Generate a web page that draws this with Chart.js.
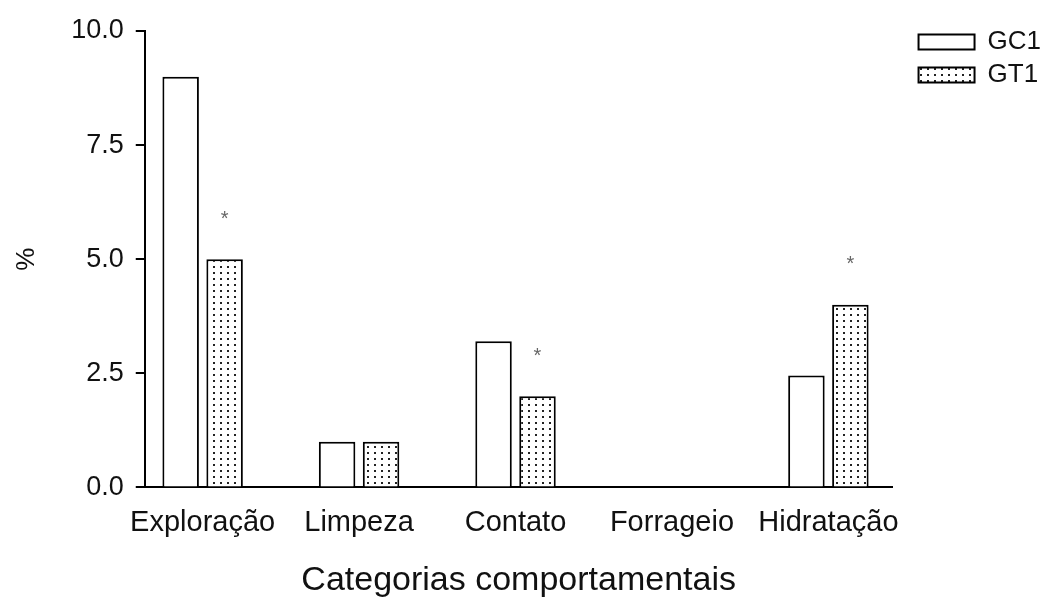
<!DOCTYPE html>
<html>
<head>
<meta charset="utf-8">
<script src="https://cdn.jsdelivr.net/npm/chart.js@4"></script>
<style>
  html, body { margin: 0; padding: 0; background: #fff; }
  #wrap { width: 1047px; height: 598px; }
</style>
</head>
<body>
<div id="wrap"><canvas id="chart"></canvas></div>
<script>
'use strict';

let categories = ['Exploração', 'Limpeza', 'Contato', 'Forrageio', 'Hidratação'];
let gc1Values = [9.0, 1.0, 3.2, 0.0, 2.45];
let gt1Values = [5.0, 1.0, 2.0, 0.0, 4.0];
let gt1Marks = ['*', '', '*', '', '*'];
let yTicks = [0, 2.5, 5.0, 7.5, 10.0];

let canvasElem = document.getElementById('chart');
let fontFam = '"Liberation Sans", Arial, sans-serif';

// dotted fill like the scanned figure
function makeDots() {
  let c = document.createElement('canvas');
  c.width = 7;
  c.height = 6;
  let cx = c.getContext('2d');
  cx.fillStyle = '#fff';
  cx.fillRect(0, 0, 7, 6);
  cx.fillStyle = '#222';
  cx.fillRect(3, 2, 2, 2);
  return cx.createPattern(c, 'repeat');
}

let starPlugin = {
  id: 'stars',
  afterDatasetsDraw(chart) {
    let meta = chart.getDatasetMeta(1);
    let ctx = chart.ctx;
    ctx.save();
    ctx.fillStyle = '#666';
    ctx.font = '20px ' + fontFam;
    ctx.textAlign = 'center';
    ctx.textBaseline = 'middle';
    for (let i = 0; i < gt1Marks.length; i++) {
      if (!gt1Marks[i]) continue;
      let bar = meta.data[i];
      ctx.fillText(gt1Marks[i], bar.x, bar.y - 40);
    }
    ctx.restore();
  }
};

// legend sits a bit right of the plot's end, so give it extra room and nudge it
let legendRoom = {
  id: 'legendRoom',
  beforeLayout(chart) {
    let lg = chart.legend;
    if (lg && !lg._roomy) {
      let fit = lg.fit.bind(lg);
      lg.fit = function () {
        fit();
        this.width += 15;
      };
      lg._roomy = true;
    }
  },
  afterLayout(chart) {
    chart.legend.left += 19;
    chart.legend.right += 19;
  }
};

function renderChart() {
  let gc1Data = gc1Values.map((v, i) => ({ x: i, y: v }));
  let gt1Data = gt1Values.map((v, i) => ({ x: i, y: v }));

  let chartObj = {
    type: 'bar',
    data: {
      datasets: [{
        label: 'GC1',
        data: gc1Data,
        backgroundColor: '#fff',
        borderColor: '#000',
        borderWidth: 2,
        categoryPercentage: 0.562,
        barPercentage: 0.83
      },
      {
        label: 'GT1',
        data: gt1Data,
        backgroundColor: makeDots(),
        borderColor: '#000',
        borderWidth: 2,
        categoryPercentage: 0.562,
        barPercentage: 0.83
      }]
    },
    options: {
      responsive: true,
      maintainAspectRatio: false,
      animation: false,
      layout: { padding: { top: 22, left: 0, right: 0, bottom: 0 } },
      plugins: {
        legend: {
          position: 'right',
          align: 'start',
          labels: {
            boxWidth: 56,
            boxHeight: 15,
            padding: 7,
            color: '#111',
            font: { family: fontFam, size: 26 }
          }
        },
        tooltip: { enabled: false }
      },
      scales: {
        x: {
          type: 'linear',
          offset: false,
          bounds: 'data',
          min: -0.37,
          max: 4.41,
          afterBuildTicks: (scale) => {
            scale.ticks = categories.map((c, i) => ({ value: i }));
          },
          grid: { display: false, offset: false },
          border: { color: '#000', width: 2 },
          ticks: {
            autoSkip: false,
            maxRotation: 0,
            padding: 10,
            color: '#111',
            font: { family: fontFam, size: 29 },
            callback: (v) => categories[v]
          },
          title: {
            display: true,
            text: 'Categorias comportamentais',
            color: '#111',
            font: { family: fontFam, size: 34 },
            padding: { top: 10, bottom: -3 }
          }
        },
        y: {
          min: 0,
          max: 10,
          afterBuildTicks: (scale) => {
            scale.ticks = yTicks.map((v) => ({ value: v }));
          },
          grid: {
            display: true,
            drawOnChartArea: false,
            drawTicks: true,
            tickLength: 9,
            color: '#000',
            lineWidth: 2
          },
          border: { color: '#000', width: 2 },
          ticks: {
            padding: 12,
            color: '#111',
            font: { family: fontFam, size: 27, lineHeight: 1.41 },
            callback: (v) => v.toFixed(1)
          },
          title: {
            display: true,
            text: '%',
            color: '#111',
            font: { family: fontFam, size: 26 },
            padding: { top: 11, bottom: 17 }
          }
        }
      }
    },
    plugins: [starPlugin, legendRoom]
  };

  new Chart(canvasElem, chartObj);
}

renderChart();
</script>
</body>
</html>
